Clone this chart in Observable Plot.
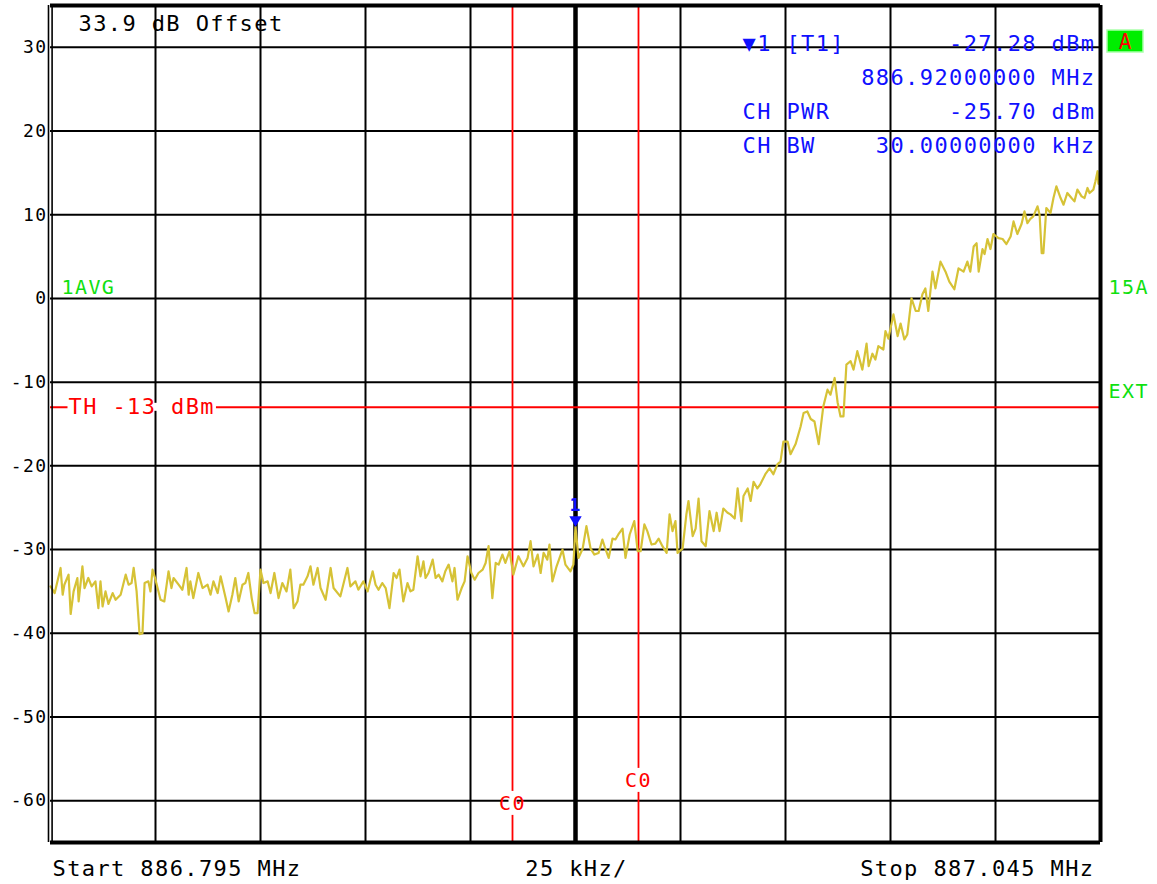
<!DOCTYPE html>
<html>
<head>
<meta charset="utf-8">
<script src="https://cdn.jsdelivr.net/npm/d3@7"></script>
<script src="https://cdn.jsdelivr.net/npm/@observablehq/plot@0.6"></script>
<style>
  html, body { margin: 0; padding: 0; background: #fff; }
  #chart svg { display: block; letter-spacing: 1.4px; }
</style>
</head>
<body>
<div id="chart"></div>
<script>
// Sweep settings
const startMHz = 886.795;
const stopMHz = 887.045;
const spanKHz = 250;
const divKHz = 25;
const refOffsetDb = 33.9;

// Level axis and grid
const levelTicks = [30, 20, 10, 0, -10, -20, -30, -40, -50, -60];
const levelRange = [-65, 35];
const gridOffsetKHz = [25, 50, 75, 100, 125, 150, 175, 200, 225];
const centerOffsetKHz = 125;

// Trace: frequency offset from start (kHz) and averaged level (dBm)
const traceOffsetKHz = [
  0, 0.5, 1.0, 2.4, 2.9, 3.3, 4.3, 4.8, 5.5, 6.4, 6.7, 7.6, 8.1, 9.0, 9.8, 10.7, 11.4, 11.9, 12.4, 13.1,
  13.8, 14.8, 15.5, 16.7, 17.9, 18.6, 19.3, 19.8, 20.5, 21.2, 21.9, 22.4, 23.3, 23.8, 24.3, 25.0, 26.2, 27.1, 28.1, 28.8,
  29.3, 30.5, 31.4, 32.4, 32.9, 33.3, 34.0, 35.2, 36.2, 37.4, 38.1, 38.8, 39.8, 40.5, 41.7, 42.4, 43.3, 44.0, 44.8, 45.7,
  46.4, 47.1, 47.9, 48.6, 49.3, 50.0, 50.7, 51.7, 52.4, 53.3, 54.3, 55.2, 56.2, 57.1, 57.9, 58.8, 59.5, 60.2, 61.2, 61.9,
  62.6, 63.6, 64.3, 65.5, 66.7, 67.4, 69.0, 70.7, 71.4, 72.6, 73.3, 74.5, 75.5, 76.7, 77.4, 78.1, 79.0, 79.8, 80.7, 81.7,
  82.4, 83.1, 84.0, 85.0, 85.7, 86.4, 87.4, 88.1, 88.8, 89.3, 90.0, 91.0, 91.7, 92.4, 93.3, 94.0, 94.8, 95.7, 96.2, 96.9,
  97.9, 98.6, 99.3, 100.2, 101.0, 101.9, 102.9, 103.6, 104.3, 105.2, 106.0, 106.7, 107.6, 108.3, 109.3, 110.2, 111.4, 112.6, 113.6, 114.3,
  115.0, 116.0, 116.7, 117.4, 118.3, 118.8, 119.5, 120.5, 121.9, 122.6, 123.8, 124.5, 125.0, 125.7, 126.7, 127.6, 128.6, 129.5, 130.5, 131.4,
  132.1, 132.9, 133.8, 134.5, 135.2, 136.2, 136.9, 137.9, 139.0, 139.8, 140.5, 141.4, 142.1, 143.1, 144.0, 144.8, 145.7, 146.7, 147.4, 148.1,
  148.8, 149.3, 150.5, 151.4, 151.9, 152.9, 153.6, 154.3, 155.0, 156.0, 156.9, 157.9, 158.6, 159.3, 160.2, 161.2, 161.9, 162.9, 163.6, 164.5,
  165.0, 166.0, 166.7, 167.4, 168.3, 169.0, 170.2, 171.2, 172.1, 173.1, 173.8, 174.5, 175.5, 176.2, 177.4, 178.6, 179.3, 180.2, 181.0, 181.9,
  182.9, 184.0, 185.0, 185.7, 186.7, 187.4, 188.1, 188.8, 189.5, 190.5, 191.2, 192.1, 193.3, 194.3, 194.8, 195.7, 196.4, 197.1, 198.3, 198.8,
  199.5, 200.7, 201.7, 202.4, 203.3, 204.0, 205.0, 206.0, 206.7, 207.6, 208.3, 209.0, 210.0, 210.7, 211.9, 213.1, 214.0, 215.2, 216.2, 217.4,
  218.3, 219.0, 219.8, 220.5, 221.0, 221.9, 222.4, 223.1, 223.8, 224.5, 225.7, 226.7, 227.6, 228.6, 229.3, 230.2, 231.2, 231.9, 232.6, 233.3,
  234.0, 235.0, 235.5, 236.0, 236.4, 237.1, 238.1, 238.8, 239.5, 240.5, 241.2, 242.1, 243.1, 243.8, 244.5, 245.5, 246.2, 246.9, 247.4, 248.3,
  248.8, 249.3, 249.5, 250.0
];
const traceLevelDbm = [
  -34.4, -34.8, -35.2, -32.2, -35.4, -34.2, -33.0, -37.7, -35.0, -33.4, -36.2, -32.0, -34.6, -33.4, -34.4, -33.8, -37.0, -33.8, -36.8, -35.0,
  -36.5, -35.2, -36.0, -35.4, -33.0, -34.2, -34.0, -32.2, -35.0, -40.1, -40.0, -34.0, -33.8, -35.0, -32.4, -33.6, -36.0, -36.2, -32.6, -34.6,
  -33.4, -34.2, -34.8, -32.2, -35.4, -33.8, -35.8, -32.8, -34.6, -34.2, -35.4, -33.8, -35.2, -33.2, -35.8, -37.4, -35.4, -33.4, -36.2, -34.2,
  -34.0, -32.8, -35.8, -37.6, -37.6, -32.4, -34.0, -33.8, -35.2, -32.8, -35.8, -34.0, -35.0, -32.4, -37.0, -36.2, -34.2, -34.2, -33.2, -32.0,
  -34.2, -32.2, -34.6, -36.0, -32.2, -34.6, -35.6, -32.2, -34.4, -33.8, -34.8, -33.8, -35.0, -32.6, -34.2, -34.8, -34.0, -34.6, -37.0, -32.8,
  -33.4, -32.4, -36.2, -34.0, -35.0, -34.8, -30.8, -33.2, -31.4, -33.4, -32.8, -31.2, -33.4, -33.0, -33.8, -32.6, -31.8, -33.8, -32.2, -36.0,
  -34.6, -33.8, -30.8, -32.8, -33.6, -32.8, -32.4, -31.6, -29.6, -35.8, -31.6, -31.8, -30.6, -31.6, -30.2, -33.0, -30.8, -32.0, -31.0, -29.0,
  -32.0, -30.6, -32.8, -30.4, -31.2, -29.4, -33.8, -32.0, -30.0, -31.8, -32.6, -31.8, -27.28, -31.0, -29.9, -27.2, -29.9, -30.6, -30.4, -28.8,
  -29.9, -31.0, -28.7, -28.8, -28.2, -27.5, -31.0, -28.2, -26.6, -30.2, -30.2, -27.0, -27.8, -29.4, -29.3, -28.7, -29.6, -30.4, -25.8, -27.8,
  -26.6, -30.4, -29.9, -25.8, -24.2, -28.4, -27.5, -23.9, -29.0, -29.6, -25.4, -27.8, -25.6, -27.8, -25.1, -25.6, -25.8, -26.3, -22.7, -26.6,
  -23.6, -22.7, -24.2, -21.9, -22.7, -22.2, -21.0, -20.3, -21.0, -19.8, -19.5, -17.1, -17.1, -18.6, -17.4, -15.3, -13.7, -13.5, -14.4, -14.7,
  -17.4, -12.9, -10.9, -11.5, -9.5, -12.4, -14.1, -14.1, -7.9, -7.5, -8.5, -6.3, -8.5, -5.4, -8.1, -6.6, -7.3, -5.7, -6.1, -3.9,
  -4.8, -1.9, -4.5, -3.0, -4.9, -4.3, 0.0, -1.5, -1.5, 0.5, 1.2, -1.5, 3.2, 1.2, 4.4, 3.2, 2.0, 1.1, 3.6, 3.2,
  4.4, 3.2, 6.2, 6.6, 3.2, 5.9, 5.3, 7.1, 5.9, 7.7, 7.2, 7.1, 6.5, 7.4, 9.2, 7.7, 8.9, 10.4, 9.0, 9.5,
  9.8, 11.0, 10.0, 5.4, 5.4, 10.8, 10.2, 12.0, 13.4, 12.0, 11.2, 12.6, 12.0, 11.6, 13.0, 12.2, 12.0, 13.2, 12.6, 13.0,
  14.0, 15.2, 13.7, 14.0
];

// Marker, channel power and limit line
const markerOffsetKHz = 125;
const markerLevelDbm = -27.28;
const channelPowerDbm = -25.70;
const channelBwKHz = 30;
const channelEdgeOffsetKHz = [110, 140];
const channelLabel = "C0";
const thresholdDbm = -13;
const thresholdLabel = `TH ${thresholdDbm} dBm`;

const trace = traceOffsetKHz.map((k, i) => ({k, level: traceLevelDbm[i]}));

const blue = "#1010ff";
const red = "#ff0000";
const green = "#10e010";
const traceColor = "#d6c236";

// Readout block in the upper right corner, one entry per text row
const readoutLeft = ["\u25BC1 [T1]", null, "CH PWR", "CH BW"];
const readoutRight = [
  `${markerLevelDbm.toFixed(2)} dBm`,
  `${(startMHz + markerOffsetKHz / 1000).toFixed(8)} MHz`,
  `${channelPowerDbm.toFixed(2)} dBm`,
  `${channelBwKHz.toFixed(8)} kHz`
];
const rowTop = 38, rowStep = 34;

const readoutMarks = [];
readoutLeft.forEach((t, row) => {
  if (t) readoutMarks.push(Plot.text([t], {frameAnchor: "top-left", dx: 692, dy: rowTop + row * rowStep,
    lineAnchor: "middle", textAnchor: "start", fill: blue, fontSize: 22}));
});
readoutRight.forEach((t, row) => {
  readoutMarks.push(Plot.text([t], {frameAnchor: "top-right", dx: -5, dy: rowTop + row * rowStep,
    lineAnchor: "middle", textAnchor: "end", fill: blue, fontSize: 22}));
});

// Green status badge to the right of the frame
const badge = (index, scales, values, dims) => {
  const g = d3.create("svg:g");
  const x0 = dims.width - dims.marginRight + 7;
  const y0 = dims.marginTop + 25;
  g.append("rect").attr("x", x0).attr("y", y0).attr("width", 36).attr("height", 22)
    .attr("fill", "#00ee00").attr("stroke", "#aaffaa").attr("stroke-width", 1.5);
  g.append("text").attr("x", x0 + 18).attr("y", y0 + 11).attr("dy", "0.36em")
    .attr("text-anchor", "middle").attr("fill", red)
    .attr("font-size", 21).attr("letter-spacing", 0).text("A");
  return g.node();
};

const chart = Plot.plot({
  width: 1157,
  height: 884,
  marginLeft: 50,
  marginRight: 57,
  marginTop: 5,
  marginBottom: 42,
  style: {fontFamily: "'DejaVu Sans Mono', monospace", fontSize: "17px", background: "#fff"},
  x: {domain: [0, spanKHz], axis: null},
  y: {domain: levelRange, axis: null},
  marks: [
    // graticule
    Plot.ruleX(gridOffsetKHz, {stroke: "#000", strokeWidth: 2}),
    Plot.ruleY(levelTicks, {stroke: "#000", strokeWidth: 2}),
    Plot.ruleX([centerOffsetKHz], {stroke: "#000", strokeWidth: 4.5}),
    // channel edges and threshold
    Plot.ruleX(channelEdgeOffsetKHz, {stroke: red, strokeWidth: 1.8}),
    Plot.ruleY([thresholdDbm], {stroke: red, strokeWidth: 1.8}),
    // trace
    Plot.line(trace, {x: "k", y: "level", stroke: traceColor, strokeWidth: 2.2, strokeLinejoin: "round"}),
    // frame: double line on the left, heavy elsewhere
    Plot.ruleX([0], {stroke: "#000", strokeWidth: 1.6, dx: -2}),
    Plot.ruleX([0], {stroke: "#000", strokeWidth: 1.6, dx: 1.6}),
    Plot.ruleX([spanKHz], {stroke: "#000", strokeWidth: 4}),
    Plot.ruleY([levelRange[1]], {stroke: "#000", strokeWidth: 4}),
    Plot.ruleY([levelRange[0]], {stroke: "#000", strokeWidth: 4}),
    // level axis
    Plot.axisY({ticks: levelTicks, tickSize: 0, tickPadding: 3, tickFormat: d => `${d}`, label: null, fontSize: 18}),
    // marker
    Plot.dot([{k: markerOffsetKHz, level: markerLevelDbm}], {x: "k", y: "level", symbol: "triangle", r: 4.6, rotate: 180, fill: blue, stroke: "none", dy: -7}),
    Plot.text([{k: markerOffsetKHz, level: markerLevelDbm}], {x: "k", y: "level", text: () => "1", fill: blue, fontWeight: "bold", fontSize: 18, dy: -22}),
    // labels on the threshold and channel lines
    Plot.text([thresholdDbm], {y: d => d, frameAnchor: "left", textAnchor: "start", lineAnchor: "middle", dx: 18, text: () => thresholdLabel, fill: red, fontSize: 22}),
    Plot.text([channelEdgeOffsetKHz[0]], {x: d => d, frameAnchor: "bottom", lineAnchor: "middle", dy: -39, text: () => channelLabel, fill: red, fontSize: 20}),
    Plot.text([channelEdgeOffsetKHz[1]], {x: d => d, frameAnchor: "bottom", lineAnchor: "middle", dy: -62, text: () => channelLabel, fill: red, fontSize: 20}),
    // header and readouts
    Plot.text([refOffsetDb], {frameAnchor: "top-left", dx: 28, dy: 18, lineAnchor: "middle", textAnchor: "start", text: d => `${d} dB Offset`, fontSize: 22, fill: "#000"}),
    ...readoutMarks,
    // side annotations
    Plot.text(["1AVG"], {frameAnchor: "top-left", dx: 11, dy: 282, lineAnchor: "middle", textAnchor: "start", fill: green, fontSize: 20}),
    Plot.text(["15A"], {frameAnchor: "top-right", dx: 8, dy: 282, lineAnchor: "middle", textAnchor: "start", fill: green, fontSize: 20}),
    Plot.text(["EXT"], {frameAnchor: "top-right", dx: 8, dy: 386, lineAnchor: "middle", textAnchor: "start", fill: green, fontSize: 20}),
    badge,
    // sweep footer
    Plot.text([startMHz], {frameAnchor: "bottom-left", dx: 2, dy: 26, lineAnchor: "middle", textAnchor: "start", text: d => `Start ${d.toFixed(3)} MHz`, fontSize: 22, fill: "#000"}),
    Plot.text([divKHz], {frameAnchor: "bottom", dx: 1, dy: 26, lineAnchor: "middle", text: d => `${d} kHz/`, fontSize: 22, fill: "#000"}),
    Plot.text([stopMHz], {frameAnchor: "bottom-right", dx: -6, dy: 26, lineAnchor: "middle", textAnchor: "end", text: d => `Stop ${d.toFixed(3)} MHz`, fontSize: 22, fill: "#000"})
  ]
});

document.getElementById("chart").appendChild(chart);

// Labels sitting on a red line interrupt it: lay a thin white band under each label
function clearUnderLabel(content, direction) {
  const ns = "http://www.w3.org/2000/svg";
  Array.from(chart.querySelectorAll("text"))
    .filter(t => t.textContent === content)
    .forEach(t => {
      const b = t.getBBox();
      const r = document.createElementNS(ns, "rect");
      if (direction === "horizontal") {
        r.setAttribute("x", b.x - 1); r.setAttribute("width", b.width + 2);
        r.setAttribute("y", b.y + b.height / 2 - 4); r.setAttribute("height", 8);
      } else {
        r.setAttribute("x", b.x + b.width / 2 - 4); r.setAttribute("width", 8);
        r.setAttribute("y", b.y); r.setAttribute("height", b.height);
      }
      r.setAttribute("fill", "#fff");
      const tf = t.getAttribute("transform");
      if (tf) r.setAttribute("transform", tf);
      t.parentNode.insertBefore(r, t);
    });
}
clearUnderLabel(thresholdLabel, "horizontal");
clearUnderLabel(channelLabel, "vertical");
</script>
</body>
</html>
